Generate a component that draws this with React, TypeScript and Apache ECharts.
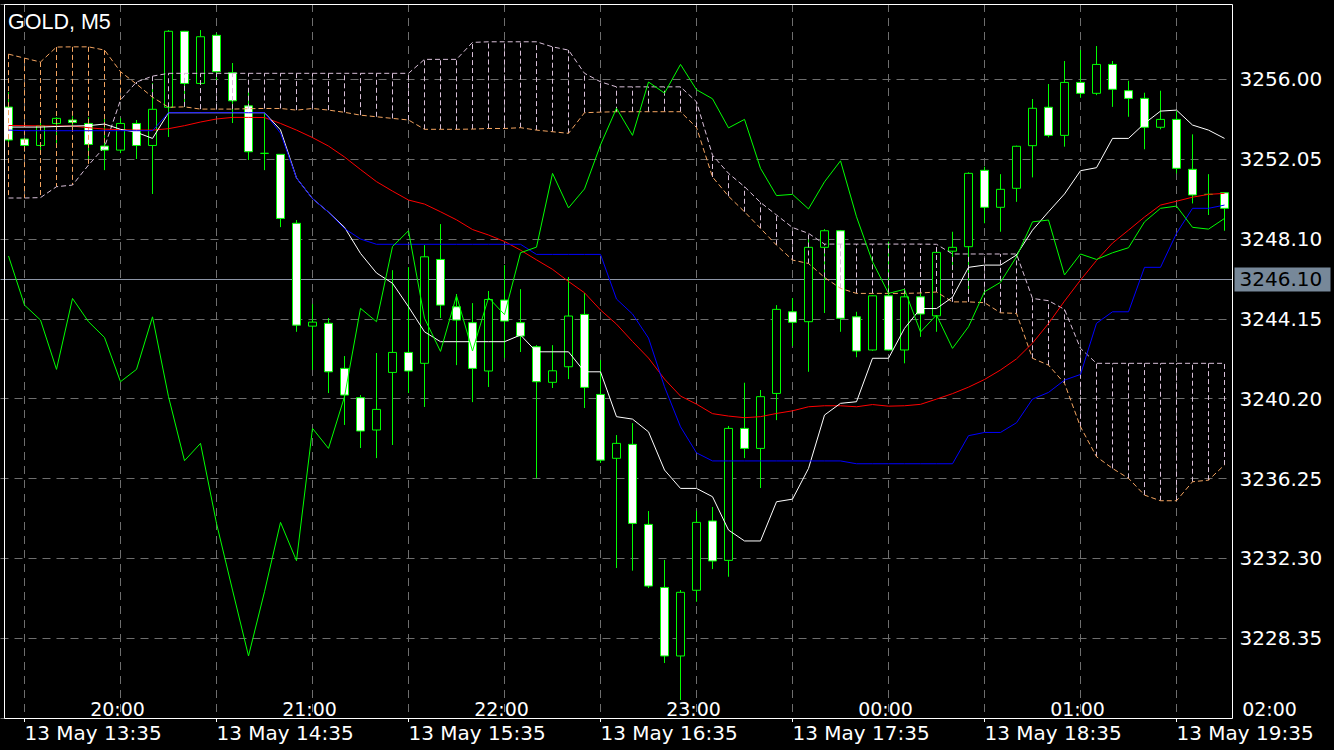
import React, { useEffect, useRef } from 'react';
import * as echarts from 'echarts';

// ---------- chart data ----------
const chartTitle = 'GOLD, M5';

const barDay = '13 May';
const firstBarMinutes = 13 * 60 + 30; // first visible bar 13:30
const barMinutes = 5;

// OHLC of the visible M5 bars, left to right
const opens = [
  3254.63, 3253.05, 3252.73, 3253.82, 3253.99, 3253.82, 3252.70, 3252.50, 3253.82, 3252.73,
  3254.62, 3258.38, 3255.80, 3258.18, 3256.33, 3254.69, 3252.34, 3252.29, 3248.88, 3243.79,
  3243.93, 3241.70, 3240.25, 3238.65, 3241.50, 3242.49, 3241.95, 3247.09, 3244.75, 3243.96,
  3241.57, 3245.08, 3243.96, 3242.77, 3241.01, 3241.78, 3244.37, 3240.41, 3237.25, 3237.94,
  3233.98, 3230.86, 3227.47, 3230.72, 3234.15, 3232.20, 3238.73, 3237.74, 3240.46, 3244.50,
  3244.01, 3247.69, 3248.51, 3244.25, 3242.61, 3245.29, 3242.61, 3245.24, 3244.30, 3247.50,
  3247.72, 3251.50, 3249.67, 3250.61, 3252.72, 3254.62, 3253.23, 3255.85, 3255.31, 3256.74,
  3255.44, 3255.06, 3253.63, 3254.02, 3251.55, 3250.31, 3250.39,
];
const closes = [
  3253.00, 3252.73, 3253.70, 3254.07, 3253.87, 3252.78, 3252.50, 3253.82, 3252.73, 3254.52,
  3258.38, 3255.80, 3258.11, 3256.38, 3254.94, 3252.42, 3252.34, 3249.12, 3243.84, 3243.99,
  3241.53, 3240.38, 3238.60, 3239.67, 3242.49, 3241.57, 3247.22, 3244.83, 3244.09, 3241.70,
  3245.11, 3244.04, 3243.30, 3241.04, 3241.58, 3244.29, 3240.76, 3237.16, 3237.99, 3234.03,
  3230.93, 3227.47, 3230.62, 3234.08, 3232.17, 3238.73, 3237.74, 3240.30, 3244.62, 3243.98,
  3247.69, 3248.51, 3244.18, 3242.56, 3245.29, 3242.61, 3245.24, 3244.39, 3247.44, 3247.69,
  3251.35, 3249.67, 3250.56, 3252.69, 3254.57, 3253.23, 3255.85, 3255.31, 3256.74, 3255.51,
  3255.06, 3253.63, 3254.02, 3251.60, 3250.28, 3250.31, 3249.62,
];
const lows = [
  3252.90, 3252.45, 3252.45, 3252.85, 3253.64, 3251.86, 3251.51, 3252.35, 3252.06, 3250.33,
  3253.15, 3254.63, 3255.77, 3255.82, 3253.84, 3252.01, 3251.51, 3248.69, 3243.51, 3241.62,
  3240.48, 3238.90, 3237.76, 3237.26, 3237.91, 3240.48, 3239.79, 3244.19, 3241.86, 3240.03,
  3240.78, 3242.21, 3242.51, 3236.27, 3240.73, 3241.17, 3239.74, 3237.02, 3231.82, 3231.69,
  3230.83, 3227.12, 3225.29, 3230.15, 3231.77, 3231.39, 3237.26, 3235.78, 3239.14, 3242.80,
  3241.53, 3244.44, 3243.51, 3242.25, 3242.57, 3242.58, 3241.95, 3243.26, 3243.51, 3246.56,
  3245.41, 3248.88, 3248.46, 3249.94, 3251.15, 3253.13, 3252.67, 3255.09, 3255.22, 3254.64,
  3254.15, 3252.54, 3253.53, 3251.35, 3249.86, 3249.29, 3248.51,
];
const highs = [
  3255.37, 3253.10, 3254.04, 3254.13, 3254.18, 3254.13, 3254.08, 3254.08, 3253.99, 3255.82,
  3258.44, 3258.40, 3258.44, 3258.29, 3256.81, 3255.57, 3254.33, 3252.30, 3249.04, 3244.88,
  3244.19, 3242.31, 3240.38, 3242.46, 3246.56, 3246.71, 3247.80, 3248.84, 3245.38, 3244.93,
  3245.53, 3246.81, 3245.62, 3242.85, 3242.85, 3246.22, 3245.43, 3242.11, 3238.40, 3238.99,
  3234.64, 3232.22, 3230.73, 3234.65, 3234.84, 3238.85, 3240.99, 3240.63, 3244.83, 3245.18,
  3248.21, 3248.59, 3248.55, 3244.50, 3245.32, 3247.97, 3245.58, 3245.58, 3247.47, 3248.46,
  3251.40, 3251.68, 3251.31, 3252.72, 3255.03, 3255.77, 3256.91, 3257.45, 3257.65, 3256.91,
  3255.93, 3255.34, 3255.44, 3254.43, 3253.28, 3251.31, 3250.42,
];

// indicator lines
const tenkanWhite = [
  3253.64, 3253.64, 3253.64, 3253.67, 3253.69, 3253.71, 3253.79, 3253.53, 3253.38, 3253.08,
  3254.35, 3254.35, 3254.35, 3254.35, 3254.35, 3254.35, 3254.35, 3253.50, 3251.12, 3250.10,
  3249.43, 3248.68, 3247.39, 3246.42, 3245.91, 3244.75, 3243.51, 3243.02, 3243.02, 3243.02,
  3243.02, 3243.02, 3243.35, 3242.52, 3242.52, 3242.52, 3241.53, 3241.53, 3239.31, 3239.19,
  3238.56, 3236.67, 3235.76, 3235.76, 3235.35, 3233.70, 3233.16, 3233.16, 3235.10, 3235.23,
  3236.75, 3239.39, 3239.97, 3240.05, 3242.20, 3242.20, 3243.68, 3244.66, 3244.66, 3245.22,
  3246.70, 3246.81, 3246.81, 3247.31, 3248.54, 3249.45, 3250.33, 3251.48, 3251.63, 3253.08,
  3253.08, 3253.82, 3254.43, 3254.48, 3253.74, 3253.49, 3253.08,
];
const kijunBlue = [
  3253.49, 3253.46, 3253.46, 3253.46, 3253.46, 3253.46, 3253.46, 3253.46, 3253.46, 3253.46,
  3254.35, 3254.35, 3254.35, 3254.35, 3254.35, 3254.35, 3254.35, 3253.34, 3251.12, 3250.10,
  3249.43, 3248.62, 3248.10, 3247.84, 3247.84, 3247.84, 3247.84, 3247.84, 3247.84, 3247.84,
  3247.84, 3247.84, 3247.84, 3247.34, 3247.34, 3247.34, 3247.34, 3247.34, 3245.13, 3244.39,
  3243.20, 3240.79, 3238.81, 3237.52, 3237.12, 3237.12, 3237.12, 3237.12, 3237.12, 3237.12,
  3237.12, 3237.12, 3237.12, 3236.98, 3236.98, 3236.98, 3236.98, 3236.98, 3236.98, 3236.98,
  3238.37, 3238.53, 3238.53, 3239.01, 3240.18, 3240.51, 3241.12, 3241.40, 3243.93, 3244.50,
  3244.50, 3246.70, 3246.70, 3248.38, 3249.62, 3249.62, 3249.78,
];
const averageRed = [
  3253.72, 3253.71, 3253.70, 3253.69, 3253.69, 3253.61, 3253.54, 3253.51, 3253.49, 3253.49,
  3253.56, 3253.71, 3253.89, 3254.04, 3254.12, 3254.12, 3254.11, 3253.82, 3253.49, 3253.12,
  3252.70, 3252.16, 3251.54, 3250.94, 3250.47, 3250.03, 3249.83, 3249.45, 3249.05, 3248.57,
  3248.30, 3247.98, 3247.55, 3247.07, 3246.60, 3246.00, 3245.44, 3244.59, 3243.89, 3243.03,
  3242.21, 3241.17, 3240.33, 3239.93, 3239.46, 3239.34, 3239.26, 3239.31, 3239.47, 3239.60,
  3239.80, 3239.85, 3239.85, 3239.80, 3239.91, 3239.83, 3239.85, 3239.92, 3240.18, 3240.45,
  3240.77, 3241.15, 3241.62, 3242.17, 3242.95, 3243.92, 3245.03, 3246.07, 3247.04, 3247.90,
  3248.54, 3249.19, 3249.78, 3249.97, 3250.17, 3250.31, 3250.36,
];
const chikouGreen = [
  3247.26, 3244.83, 3244.09, 3241.65, 3245.16, 3244.01, 3243.23, 3241.04, 3241.65, 3244.25,
  3240.30, 3237.13, 3237.99, 3234.03, 3230.73, 3227.47, 3230.65, 3234.08, 3232.18, 3238.73,
  3237.74, 3240.30, 3244.67, 3244.01, 3247.73, 3248.51, 3244.18, 3242.54, 3245.30, 3242.56,
  3245.20, 3244.36, 3247.42, 3247.70, 3251.35, 3249.64, 3250.58, 3252.76, 3254.57, 3253.23,
  3255.87, 3255.32, 3256.74, 3255.49, 3255.04, 3253.60, 3254.02, 3251.60, 3250.25, 3250.31,
  3249.59, 3250.93, 3251.97, 3249.20, 3246.98, 3245.41, 3245.61, 3243.50, 3244.34, 3242.69,
  3243.76, 3245.49, 3245.96, 3247.22, 3248.95, 3249.04, 3246.32, 3247.36, 3247.09, 3247.42,
  3247.67, 3248.95, 3249.62, 3249.73, 3248.68, 3248.59, 3249.12,
];
const senkouA = [
  3257.25, 3257.05, 3256.86, 3257.60, 3257.61, 3257.61, 3257.45, 3256.38, 3255.77, 3255.12,
  3254.62, 3254.64, 3254.53, 3254.53, 3254.53, 3254.55, 3254.56, 3254.56, 3254.48, 3254.56,
  3254.48, 3254.37, 3254.23, 3254.15, 3254.07, 3253.99, 3253.53, 3253.53, 3253.53, 3253.54,
  3253.57, 3253.57, 3253.61, 3253.49, 3253.41, 3253.33, 3254.35, 3254.38, 3254.40, 3254.40,
  3254.40, 3254.40, 3254.40, 3253.62, 3251.17, 3250.22, 3249.45, 3248.63, 3247.80, 3247.06,
  3246.89, 3246.20, 3245.66, 3245.41, 3245.41, 3245.41, 3245.41, 3245.43, 3245.48, 3244.99,
  3244.99, 3244.95, 3244.45, 3244.42, 3242.20, 3241.86, 3240.96, 3238.81, 3237.33, 3236.75,
  3236.26, 3235.43, 3235.15, 3235.15, 3236.09, 3236.17, 3236.92,
];
const senkouB = [
  3250.13, 3250.13, 3250.15, 3250.69, 3250.77, 3251.76, 3252.65, 3254.98, 3255.87, 3256.16,
  3256.30, 3256.30, 3256.30, 3256.30, 3256.30, 3256.30, 3256.30, 3256.30, 3256.30, 3256.30,
  3256.30, 3256.30, 3256.30, 3256.30, 3256.30, 3256.30, 3256.99, 3256.99, 3256.99, 3257.83,
  3257.86, 3257.86, 3257.86, 3257.86, 3257.61, 3257.45, 3256.30, 3255.88, 3255.63, 3255.63,
  3255.63, 3255.63, 3255.63, 3254.89, 3252.25, 3251.35, 3250.69, 3249.91, 3249.29, 3248.67,
  3248.38, 3247.85, 3247.85, 3247.85, 3247.85, 3247.85, 3247.85, 3247.85, 3247.84, 3247.36,
  3247.36, 3247.36, 3247.36, 3247.36, 3245.16, 3245.05, 3244.62, 3242.69, 3241.95, 3241.95,
  3241.95, 3241.95, 3241.95, 3241.95, 3241.95, 3241.95, 3241.95,
];

const lastPrice = 3246.10;

// price scale
const priceMin = 3224.40;
const priceMax = 3259.73;
const priceStep = 3.95;

// time scale labels
const dateTickFirstBar = 1;   // "13 May 13:35"
const barsPerHour = 12;
const gridEveryBars = 6;
const hourLabels = ['20:00', '21:00', '22:00', '23:00', '00:00', '01:00', '02:00'];
const hourLabelFirstBar = 7;

// ---------- styles ----------
const FONT = '"DejaVu Sans", "Liberation Sans", sans-serif';
const LIME = '#00ff00';
const GRID = '#6e6e6e';
const SANDY = '#f4a460';
const THISTLE = '#d8bfd8';

const barTimes = opens.map((_, i) => {
  const m = firstBarMinutes + i * barMinutes;
  const hh = String(Math.floor(m / 60) % 24).padStart(2, '0');
  const mm = String(m % 60).padStart(2, '0');
  return `${barDay} ${hh}:${mm}`;
});

const isDateTick = (i: number) => (i - dateTickFirstBar) % barsPerHour === 0 && i >= dateTickFirstBar;
const isGridTick = (i: number) => (i - dateTickFirstBar) % gridEveryBars === 0 && i >= dateTickFirstBar;

function lineSeries(name: string, data: number[], color: string, dashed = false) {
  return {
    type: 'line',
    name,
    data,
    symbol: 'none',
    showSymbol: false,
    silent: true,
    z: 3,
    lineStyle: { color, width: 1, type: dashed ? [5, 3] : 'solid' },
    emphasis: { disabled: true },
  };
}

function buildOption(): any {
  return {
    animation: false,
    backgroundColor: '#000000',
    textStyle: { fontFamily: FONT },
    grid: { left: 0.5, right: 101.5, top: 4, bottom: 32, containLabel: false },
    xAxis: [
      {
        type: 'category',
        data: barTimes,
        boundaryGap: true,
        position: 'bottom',
        axisLine: { show: false },
        axisTick: {
          show: true,
          alignWithLabel: true,
          interval: (i: number) => isDateTick(i),
          length: 4,
          lineStyle: { color: '#ffffff', width: 1 },
        },
        axisLabel: {
          show: true,
          interval: (i: number) => isDateTick(i),
          align: 'left',
          margin: 5,
          color: '#ffffff',
          fontSize: 20,
          fontFamily: FONT,
        },
        splitLine: {
          show: true,
          interval: (i: number) => isGridTick(i),
          alignWithLabel: true,
          lineStyle: { color: GRID, width: 1, type: [8, 6] },
        },
      },
    ],
    yAxis: [
      {
        type: 'value',
        position: 'right',
        min: priceMin,
        max: priceMax,
        interval: priceStep,
        axisLine: { show: false },
        axisTick: { show: false },
        axisLabel: {
          color: '#ffffff',
          fontSize: 20,
          fontFamily: FONT,
          margin: 7,
          showMinLabel: false,
          showMaxLabel: false,
          formatter: (v: number) => v.toFixed(2),
        },
        splitLine: { show: true, lineStyle: { color: GRID, width: 1, type: [8, 6] } },
      },
    ],
    series: [
      {
        type: 'candlestick',
        name: 'GOLD',
        data: opens.map((o, i) => [o, closes[i], lows[i], highs[i]]),
        barWidth: 8,
        silent: true,
        z: 2,
        itemStyle: {
          color: '#000000',
          color0: '#ffffff',
          borderColor: LIME,
          borderColor0: LIME,
          borderColorDoji: LIME,
          borderWidth: 1,
        },
        emphasis: { disabled: true },
        markLine: {
          z: 1,
          silent: true,
          symbol: ['none', 'none'],
          animation: false,
          data: [{ yAxis: lastPrice }],
          lineStyle: { color: '#8c95a6', width: 1, type: 'solid' },
          emphasis: { disabled: true },
          label: {
            show: true,
            position: 'end',
            distance: 2,
            formatter: () => lastPrice.toFixed(2),
            color: '#000000',
            backgroundColor: '#778899',
            fontSize: 20,
            fontFamily: FONT,
            lineHeight: 19,
            padding: [3, 4, 2, 5],
            width: 87,
          },
        },
      },
      {
        type: 'custom',
        name: 'kumo',
        silent: true,
        z: 3,
        clip: true,
        data: senkouA.map((a, i) => [i, a, senkouB[i]]),
        encode: { x: 0, y: [1, 2] },
        renderItem: (_params: any, api: any) => {
          const i = api.value(0);
          const a = api.value(1);
          const b = api.value(2);
          const pa = api.coord([i, a]);
          const pb = api.coord([i, b]);
          const x = Math.floor(pa[0]) + 0.5;
          return {
            type: 'line',
            shape: { x1: x, y1: pa[1], x2: x, y2: pb[1] },
            style: { stroke: a > b ? SANDY : THISTLE, lineWidth: 1, lineDash: [5, 3], fill: null },
          };
        },
      },
      lineSeries('Senkou Span A', senkouA, SANDY, true),
      lineSeries('Senkou Span B', senkouB, THISTLE, true),
      lineSeries('Average', averageRed, '#ff0000'),
      lineSeries('Tenkan-sen', tenkanWhite, '#ffffff'),
      lineSeries('Kijun-sen', kijunBlue, '#0000ff'),
      lineSeries('Chikou Span', chikouGreen, LIME),
    ],
  };
}

export default function App() {
  const ref = useRef<HTMLDivElement>(null);

  useEffect(() => {
    if (!ref.current) return;
    const chart = echarts.init(ref.current, null, { renderer: 'svg', width: 1334, height: 750 });
    chart.setOption(buildOption());

    const hourTexts = hourLabels.map((label, k) => {
      const idx = hourLabelFirstBar + k * barsPerHour;
      let px = chart.convertToPixel({ xAxisIndex: 0 }, idx) as unknown as number;
      if (typeof px !== 'number' || !isFinite(px)) px = 0;
      return {
        type: 'text',
        x: px - 3,
        y: 708.5,
        z: 101,
        silent: true,
        style: {
          text: label,
          fill: '#ffffff',
          fontSize: 19,
          fontFamily: FONT,
          align: 'center',
          verticalAlign: 'middle',
        },
      };
    });

    chart.setOption({
      graphic: [
        {
          type: 'rect',
          z: 100,
          silent: true,
          shape: { x: 4.5, y: 4.5, width: 1228, height: 714 },
          style: { fill: 'none', stroke: '#ffffff', lineWidth: 1 },
        },
        {
          type: 'text',
          x: 8,
          y: 21.5,
          z: 101,
          silent: true,
          style: {
            text: chartTitle,
            fill: '#ffffff',
            fontSize: 21.5,
            fontFamily: '"Liberation Sans", Arial, sans-serif',
            verticalAlign: 'middle',
          },
        },
        ...hourTexts,
      ],
    });

    return () => chart.dispose();
  }, []);

  return (
    <div
      ref={ref}
      style={{ position: 'fixed', left: 0, top: 0, width: 1334, height: 750, background: '#000' }}
    />
  );
}
